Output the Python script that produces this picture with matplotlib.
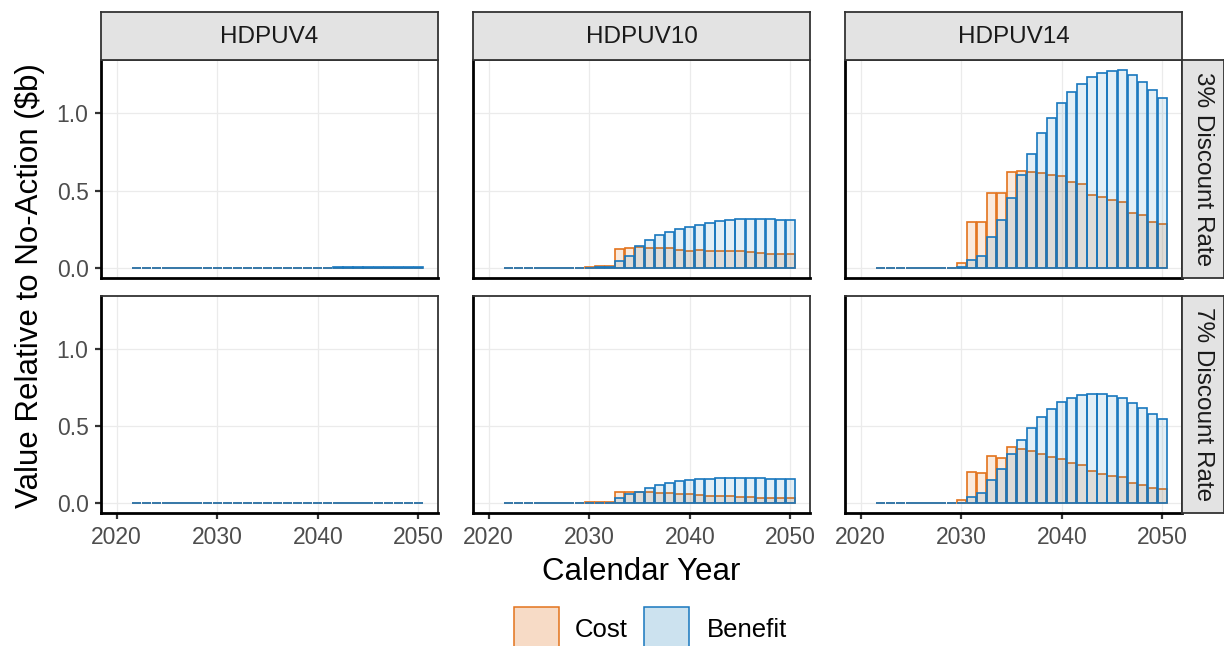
import matplotlib.pyplot as plt
from matplotlib.patches import Rectangle
from matplotlib.colors import to_rgba

plt.rcParams['font.family'] = ['Liberation Sans', 'DejaVu Sans']

years = list(range(2022, 2051))
vehicles = ['HDPUV4', 'HDPUV10', 'HDPUV14']
rates = ['3% Discount Rate', '7% Discount Rate']

# values relative to no-action, $b (2022..2050)
cost_v4_3 = [0, 0, 0, 0, 0, 0, 0, 0,
             0.001, 0.001, 0.001, 0.001, 0.001, 0.001, 0.001, 0.001, 0.001, 0.001, 0.001,
             0.001, 0.001, 0.001, 0.001, 0.001, 0.001, 0.001, 0.001, 0.001, 0.001]
benefit_v4_3 = [0, 0, 0, 0, 0, 0, 0, 0,
                0.001, 0.001, 0.001, 0.001, 0.001, 0.001, 0.001, 0.002, 0.002, 0.002, 0.003,
                0.003, 0.004, 0.004, 0.005, 0.005, 0.005, 0.006, 0.006, 0.006, 0.006]
cost_v10_3 = [0, 0, 0, 0, 0, 0, 0, 0,
              0.006, 0.013, 0.013, 0.122, 0.128, 0.133, 0.130, 0.128, 0.128, 0.118, 0.113,
              0.115, 0.113, 0.111, 0.107, 0.107, 0.103, 0.100, 0.094, 0.094, 0.090]
benefit_v10_3 = [0, 0, 0, 0, 0, 0, 0, 0,
                 0.0, 0.004, 0.004, 0.045, 0.081, 0.140, 0.184, 0.216, 0.233, 0.252, 0.265,
                 0.278, 0.291, 0.301, 0.308, 0.314, 0.316, 0.314, 0.314, 0.312, 0.312]
cost_v14_3 = [0, 0, 0, 0, 0, 0, 0, 0,
              0.03, 0.30, 0.30, 0.485, 0.485, 0.62, 0.626, 0.617, 0.611, 0.60, 0.594,
              0.556, 0.543, 0.47, 0.457, 0.436, 0.425, 0.355, 0.34, 0.295, 0.282]
benefit_v14_3 = [0, 0, 0, 0, 0, 0, 0, 0,
                 0.01, 0.05, 0.08, 0.20, 0.31, 0.455, 0.60, 0.733, 0.868, 0.968, 1.066,
                 1.137, 1.19, 1.23, 1.26, 1.27, 1.278, 1.244, 1.197, 1.15, 1.098]

cost_v4_7 = [0, 0, 0, 0, 0, 0, 0, 0,
             0.001, 0.001, 0.001, 0.001, 0.001, 0.001, 0.001, 0.001, 0.001, 0.001, 0.001,
             0.001, 0.001, 0.001, 0.001, 0.001, 0.001, 0.001, 0.001, 0.001, 0.001]
benefit_v4_7 = [0, 0, 0, 0, 0, 0, 0, 0,
                0.001, 0.001, 0.001, 0.001, 0.001, 0.001, 0.001, 0.002, 0.002, 0.002, 0.002,
                0.002, 0.003, 0.003, 0.003, 0.003, 0.004, 0.004, 0.004, 0.004, 0.004]
cost_v10_7 = [0, 0, 0, 0, 0, 0, 0, 0,
              0.006, 0.006, 0.006, 0.075, 0.075, 0.073, 0.070, 0.068, 0.066, 0.058, 0.056,
              0.051, 0.049, 0.047, 0.043, 0.041, 0.038, 0.034, 0.032, 0.030, 0.030]
benefit_v10_7 = [0, 0, 0, 0, 0, 0, 0, 0,
                 0.0, 0.002, 0.002, 0.030, 0.058, 0.075, 0.100, 0.120, 0.132, 0.141, 0.147,
                 0.154, 0.156, 0.160, 0.162, 0.162, 0.162, 0.160, 0.158, 0.156, 0.154]
cost_v14_7 = [0, 0, 0, 0, 0, 0, 0, 0,
              0.021, 0.20, 0.194, 0.308, 0.295, 0.365, 0.353, 0.34, 0.32, 0.30, 0.288,
              0.259, 0.244, 0.205, 0.19, 0.175, 0.167, 0.132, 0.12, 0.10, 0.092]
benefit_v14_7 = [0, 0, 0, 0, 0, 0, 0, 0,
                 0.0, 0.04, 0.066, 0.15, 0.222, 0.316, 0.406, 0.487, 0.558, 0.609, 0.656,
                 0.682, 0.703, 0.707, 0.707, 0.697, 0.682, 0.65, 0.615, 0.579, 0.545]

costs = [[cost_v4_3, cost_v10_3, cost_v14_3], [cost_v4_7, cost_v10_7, cost_v14_7]]
benefits = [[benefit_v4_3, benefit_v10_3, benefit_v14_3],
            [benefit_v4_7, benefit_v10_7, benefit_v14_7]]

COST_C = '#E3731C'
BEN_C = '#1877BE'
BEN_FILL = '#0072B2'

W, H = 1224, 646
fig = plt.figure(figsize=(W / 100, H / 100), dpi=100)


def box(x0, x1, y0, y1):
    # pixel box (top-left origin) -> figure fraction
    return [x0 / W, 1 - y1 / H, (x1 - x0) / W, (y1 - y0) / H]


cols = [(101, 438), (473, 810), (845, 1182)]
rows = [(60, 278), (296, 513)]

for r, (y0, y1) in enumerate(rows):
    for c, (x0, x1) in enumerate(cols):
        ax = fig.add_axes(box(x0, x1, y0, y1))
        ax.bar(years, costs[r][c], width=0.92, color=to_rgba(COST_C, 0.15),
               edgecolor=COST_C, linewidth=1.2, zorder=2)
        ax.bar(years, benefits[r][c], width=0.92, color=to_rgba(BEN_FILL, 0.11),
               edgecolor=BEN_C, linewidth=1.2, zorder=3)
        ax.set_xlim(2018.45, 2051.95)
        ax.set_ylim(-0.064, 1.342)
        ax.set_xticks([2020, 2030, 2040, 2050])
        ax.set_yticks([0.0, 0.5, 1.0])
        ax.set_yticklabels(['0.0', '0.5', '1.0'])
        ax.grid(color='#EBEBEB', linewidth=0.9, zorder=0)
        ax.set_axisbelow(True)
        for side in ['top', 'right']:
            ax.spines[side].set_color('#333333')
            ax.spines[side].set_linewidth(1.3)
        for side in ['left', 'bottom']:
            ax.spines[side].set_color('black')
            ax.spines[side].set_linewidth(2.0)
        ax.tick_params(direction='out', length=4.5, width=1.6, color='#333333',
                       labelsize=16.5, labelcolor='#4D4D4D', pad=4.5)
        if c > 0:
            ax.tick_params(axis='y', left=False, labelleft=False)
        if r == 0:
            ax.tick_params(axis='x', bottom=False, labelbottom=False)

        # top strips
        if r == 0:
            sax = fig.add_axes(box(x0, x1, 12, 60))
            sax.set_facecolor('#E3E3E3')
            sax.set_xticks([])
            sax.set_yticks([])
            for s in sax.spines.values():
                s.set_color('#333333')
                s.set_linewidth(1.3)
            sax.text(0.5, 0.48, vehicles[c], ha='center', va='center',
                     fontsize=17.5, color='#1A1A1A', transform=sax.transAxes)

    # right strips
    sax = fig.add_axes(box(1182, 1224, y0, y1))
    sax.set_facecolor('#E3E3E3')
    sax.set_xticks([])
    sax.set_yticks([])
    for s in sax.spines.values():
        s.set_color('#333333')
        s.set_linewidth(1.3)
    sax.text(0.5, 0.5, rates[r], ha='center', va='center', rotation=-90,
             fontsize=17.5, color='#1A1A1A', transform=sax.transAxes)

fig.text(641.5 / W, 1 - 572 / H, 'Calendar Year', ha='center', va='center',
         fontsize=22.5, color='black')
fig.text(30 / W, 1 - 286 / H, 'Value Relative to No-Action ($b)', ha='center',
         va='center', rotation=90, fontsize=22.5, color='black')

# legend (partly cut by the figure's bottom edge, as in the original)
for kx, col, a, label, tx in [(514, COST_C, 0.25, 'Cost', 575),
                              (644, BEN_FILL, 0.2, 'Benefit', 707)]:
    fig.add_artist(Rectangle((kx / W, 1 - 652 / H), 45 / W, 45 / H,
                             transform=fig.transFigure,
                             facecolor=to_rgba(col, a),
                             edgecolor=COST_C if label == 'Cost' else BEN_C,
                             linewidth=1.1))
    fig.text(tx / W, 1 - 630 / H, label, ha='left', va='center',
             fontsize=18.5, color='black')

fig.savefig('out.png', dpi=100)
